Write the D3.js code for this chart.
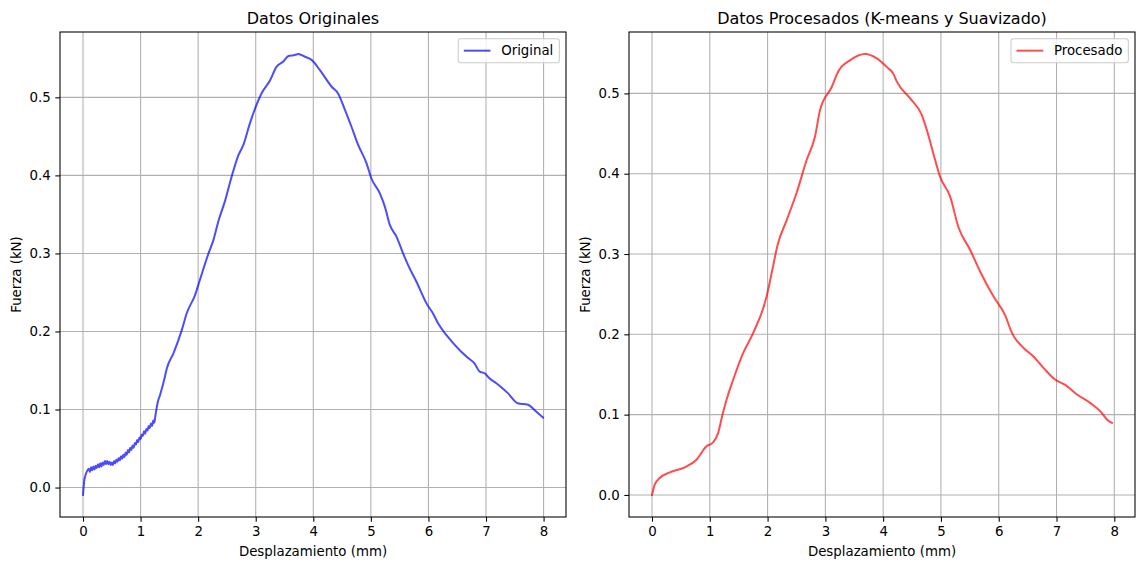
<!DOCTYPE html>
<html>
<head>
<meta charset="utf-8">
<script src="https://cdn.jsdelivr.net/npm/d3@7"></script>
<style>
  body { margin: 0; background: #fff; }
  svg { font-family: "DejaVu Sans", sans-serif; }
</style>
</head>
<body>
<div id="container"></div>
<script>
// Raw force-displacement curve
const origX = [0, 0.01, 0.02, 0.04, 0.07,
  0.10, 0.12, 0.14, 0.16, 0.18, 0.20, 0.22, 0.24, 0.26, 0.28, 0.30, 0.32, 0.34, 0.36, 0.38,
  0.40, 0.42, 0.44, 0.46, 0.48, 0.50, 0.52, 0.54, 0.56, 0.58, 0.60, 0.62, 0.64, 0.66, 0.68,
  0.70, 0.72, 0.74, 0.76, 0.78, 0.80, 0.82, 0.84, 0.86, 0.88, 0.90, 0.92, 0.94, 0.96, 0.98,
  1.00, 1.02, 1.04, 1.06, 1.08, 1.10, 1.12, 1.14, 1.16, 1.18, 1.20, 1.22, 1.24, 1.25,
  1.27, 1.30, 1.34, 1.37, 1.41, 1.457, 1.571, 1.717, 1.80, 1.948, 2.03, 2.18, 2.265, 2.35,
  2.47, 2.58, 2.70, 2.785, 2.90, 2.99, 3.10, 3.25, 3.36, 3.48, 3.57, 3.66, 3.74, 3.855,
  3.97, 4.115, 4.32, 4.43, 4.55, 4.665, 4.78, 4.925, 5.01, 5.156, 5.243, 5.33, 5.445, 5.56,
  5.647, 5.79, 5.966, 6.08, 6.167, 6.31, 6.43, 6.57, 6.69, 6.80, 6.89, 6.977, 7.06, 7.18,
  7.29, 7.38, 7.55, 7.73, 7.87, 7.99];
const origY = [-0.0095, 0.000, 0.008, 0.015, 0.021,
  0.024, 0.020, 0.026, 0.022, 0.027, 0.023, 0.028, 0.025, 0.030, 0.026, 0.031, 0.027, 0.032, 0.029, 0.034,
  0.030, 0.034, 0.030, 0.033, 0.029, 0.032, 0.029, 0.034, 0.031, 0.036, 0.033, 0.038, 0.035, 0.040, 0.037,
  0.042, 0.039, 0.045, 0.042, 0.048, 0.045, 0.051, 0.048, 0.054, 0.051, 0.057, 0.055, 0.061, 0.058, 0.064,
  0.062, 0.068, 0.066, 0.072, 0.069, 0.075, 0.073, 0.079, 0.076, 0.082, 0.079, 0.086, 0.083, 0.088,
  0.098, 0.110, 0.119, 0.127, 0.138, 0.153, 0.172, 0.202, 0.223, 0.247, 0.266, 0.300, 0.317, 0.341,
  0.368, 0.398, 0.426, 0.439, 0.467, 0.486, 0.505, 0.522, 0.539, 0.546, 0.553, 0.554, 0.5555, 0.552,
  0.548, 0.535, 0.5136, 0.505, 0.484, 0.462, 0.439, 0.4155, 0.396, 0.377, 0.360, 0.3365, 0.3215, 0.300,
  0.285, 0.264, 0.236, 0.223, 0.2105, 0.1956, 0.185, 0.174, 0.166, 0.159, 0.1486, 0.1465, 0.140, 0.1337,
  0.127, 0.121, 0.108, 0.106, 0.0974, 0.0897];

// Clustered and smoothed curve
const procX = [0, 0.047, 0.133, 0.307, 0.567, 0.77, 0.943, 1.057, 1.144, 1.22, 1.29, 1.404,
  1.577, 1.75, 1.983, 2.07, 2.18, 2.33, 2.50, 2.676, 2.82, 2.907, 3.11, 3.22, 3.43, 3.69,
  3.89, 4.06, 4.18, 4.235, 4.467, 4.67, 4.756, 4.90, 4.986, 5.16, 5.30, 5.506, 5.68, 5.91,
  6.11, 6.23, 6.43, 6.60, 6.777, 6.98, 7.15, 7.36, 7.586, 7.76, 7.876, 7.96];
const procY = [0, 0.0128, 0.0211, 0.0281, 0.0343, 0.0439, 0.0605, 0.0654, 0.077, 0.0999, 0.1185, 0.1434,
  0.1766, 0.2015, 0.247, 0.276, 0.313, 0.342, 0.3756, 0.417, 0.446, 0.479, 0.508, 0.527, 0.5414, 0.549,
  0.5435, 0.533, 0.524, 0.515, 0.4938, 0.473, 0.4544, 0.417, 0.396, 0.3714, 0.334, 0.305, 0.278, 0.247,
  0.224, 0.2015, 0.183, 0.1724, 0.158, 0.1434, 0.137, 0.1248, 0.1144, 0.104, 0.0937, 0.0896];

const xTicks = [0, 1, 2, 3, 4, 5, 6, 7, 8];
const yTicks = [0.0, 0.1, 0.2, 0.3, 0.4, 0.5];

const width = 1139, height = 563;
const fs = 13.33;

const svg = d3.select("#container").append("svg")
  .attr("width", width)
  .attr("height", height);

// pad a domain by 5% on each side, like matplotlib autoscaling
function padded(vals) {
  const [lo, hi] = d3.extent(vals);
  const m = (hi - lo) * 0.05;
  return [lo - m, hi + m];
}

function drawPanel(opts) {
  const { left, top, w, h, xs, ys, color, title, label } = opts;
  const g = svg.append("g").attr("transform", `translate(${left},${top})`);

  const x = d3.scaleLinear().domain(padded(xs)).range([0, w]);
  const y = d3.scaleLinear().domain(padded(ys)).range([h, 0]);

  // grid
  g.append("g").selectAll("line").data(xTicks).enter().append("line")
    .attr("x1", d => x(d)).attr("x2", d => x(d))
    .attr("y1", 0).attr("y2", h)
    .attr("stroke", "#b0b0b0").attr("stroke-width", 1.07);
  g.append("g").selectAll("line").data(yTicks).enter().append("line")
    .attr("x1", 0).attr("x2", w)
    .attr("y1", d => y(d)).attr("y2", d => y(d))
    .attr("stroke", "#b0b0b0").attr("stroke-width", 1.07);

  // the curve
  const line = d3.line()
    .x((d, i) => x(xs[i]))
    .y(d => y(d))
    .curve(d3.curveMonotoneX);
  g.append("path")
    .datum(ys)
    .attr("fill", "none")
    .attr("stroke", color)
    .attr("stroke-opacity", 0.7)
    .attr("stroke-width", 2)
    .attr("stroke-linejoin", "round")
    .attr("stroke-linecap", "square")
    .attr("d", line);

  // axes
  const xAxis = g.append("g")
    .attr("transform", `translate(0,${h})`)
    .call(d3.axisBottom(x).tickValues(xTicks).tickFormat(d3.format("d")).tickSize(4.67).tickPadding(4.67));
  const yAxis = g.append("g")
    .call(d3.axisLeft(y).tickValues(yTicks).tickFormat(d3.format(".1f")).tickSize(4.67).tickPadding(4.67));
  [xAxis, yAxis].forEach(a => {
    a.select(".domain").remove();
    a.selectAll(".tick line").attr("stroke", "#000").attr("stroke-width", 1.07);
    a.selectAll(".tick text")
      .attr("fill", "#000")
      .style("font-size", fs + "px")
      .style("font-family", "DejaVu Sans");
  });

  // frame
  g.append("rect")
    .attr("width", w).attr("height", h)
    .attr("fill", "none")
    .attr("stroke", "#000").attr("stroke-width", 1.07);

  g.append("text")
    .attr("x", w / 2).attr("y", -8)
    .attr("text-anchor", "middle")
    .style("font-size", "16px")
    .text(title);

  g.append("text")
    .attr("x", w / 2).attr("y", h + 39)
    .attr("text-anchor", "middle")
    .style("font-size", fs + "px")
    .text("Desplazamiento (mm)");

  g.append("text")
    .attr("transform", `translate(-39,${h / 2}) rotate(-90)`)
    .attr("text-anchor", "middle")
    .style("font-size", fs + "px")
    .text("Fuerza (kN)");

  // legend
  const leg = g.append("g");
  const box = leg.append("rect")
    .attr("rx", 2.5).attr("ry", 2.5)
    .attr("fill", "#fff").attr("fill-opacity", 0.8)
    .attr("stroke", "#cccccc").attr("stroke-width", 1.07);
  const txt = leg.append("text")
    .style("font-size", fs + "px")
    .attr("dominant-baseline", "central")
    .text(label);
  const tw = txt.node().getComputedTextLength();
  const bw = 5.5 + 26.7 + 10.7 + tw + 6;
  const bx = w - 6.67 - bw, by = 6.67, bh = 24;
  box.attr("x", bx).attr("y", by).attr("width", bw).attr("height", bh);
  leg.append("line")
    .attr("x1", bx + 5.5).attr("x2", bx + 5.5 + 26.7)
    .attr("y1", by + bh / 2).attr("y2", by + bh / 2)
    .attr("stroke", color).attr("stroke-opacity", 0.7).attr("stroke-width", 2);
  txt.attr("x", bx + 5.5 + 26.7 + 10.7).attr("y", by + bh / 2);
}

drawPanel({ left: 60, top: 32, w: 506, h: 485, xs: origX, ys: origY,
  color: "blue", title: "Datos Originales", label: "Original" });
drawPanel({ left: 629, top: 32, w: 506, h: 485, xs: procX, ys: procY,
  color: "red", title: "Datos Procesados (K-means y Suavizado)", label: "Procesado" });
</script>
</body>
</html>
